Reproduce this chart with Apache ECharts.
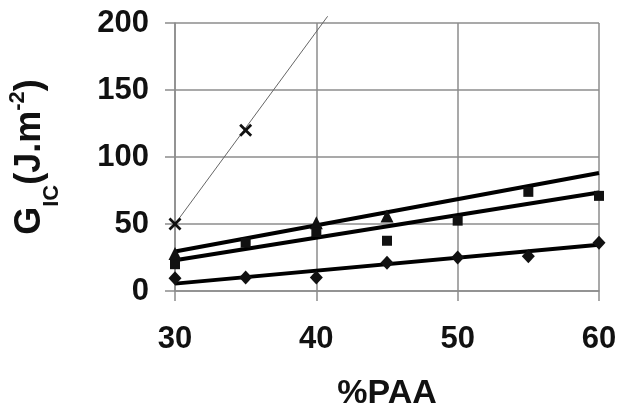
<!DOCTYPE html>
<html>
<head>
<meta charset="utf-8">
<script src="https://cdn.jsdelivr.net/npm/echarts@6/dist/echarts.min.js"></script>
<style>
  html, body { margin: 0; padding: 0; background: #fff; }
  #chart { width: 631px; height: 411px; }
</style>
</head>
<body>
<div id="chart"></div>
<script>
// data (x = %PAA, y = Gic)
const crossPts = [[30, 50], [35, 120]]
const crossFit = [[30, 50], [40.8, 205]]
const trianglePts = [[30, 28], [40, 51], [45, 56]]
const triangleFit = [[30, 29.5], [60, 88]]
const squarePts = [[30, 20], [35, 36], [40, 44], [45, 37.5], [50, 52.5], [55, 74], [60, 71]]
const squareFit = [[30, 23], [60, 73.5]]
const diamondPts = [[30, 9.5], [35, 10], [40, 10], [45, 21], [50, 25], [55, 26], [60, 36]]
const diamondFit = [[30, 5.5], [60, 34.5]]
const xTicks = [30, 40, 50, 60]
const yTicks = [0, 50, 100, 150, 200]

const FONT = 'Liberation Sans'
const gridColor = '#8c8c8c'
const xPath = 'path://M0,1.5L1.5,0L5,3.5L8.5,0L10,1.5L6.5,5L10,8.5L8.5,10L5,6.5L1.5,10L0,8.5L3.5,5Z'

const chart = echarts.init(document.getElementById('chart'))

function fitLine (data, width, color) {
  return {
    type: 'line',
    data: data,
    symbol: 'none',
    clip: false,
    silent: true,
    z: 3,
    lineStyle: { width: width, color: color }
  }
}

function points (data, symbol, size) {
  return {
    type: 'scatter',
    data: data,
    symbol: symbol,
    symbolSize: size,
    z: 4,
    itemStyle: { color: '#111', opacity: 1 }
  }
}

const option = {
  animation: false,
  backgroundColor: '#fff',
  grid: { left: 175, right: 32, top: 23, bottom: 120, outerBoundsMode: 'none', containLabel: false },
  xAxis: {
    type: 'value',
    min: xTicks[0],
    max: xTicks[xTicks.length - 1],
    interval: 10,
    name: '%PAA',
    nameLocation: 'middle',
    nameGap: 86,
    nameTextStyle: { fontFamily: FONT, fontWeight: 'bold', fontSize: 34, color: '#111' },
    axisLine: { show: true, lineStyle: { color: gridColor, width: 1.5 } },
    axisTick: { show: true, length: 10, lineStyle: { color: gridColor, width: 1.5 } },
    axisLabel: { margin: 33, fontFamily: FONT, fontWeight: 'bold', fontSize: 31, color: '#111' },
    splitLine: { show: true, lineStyle: { color: gridColor, width: 1.5 } }
  },
  yAxis: {
    type: 'value',
    min: yTicks[0],
    max: yTicks[yTicks.length - 1],
    interval: 50,
    name: '{m|G}{s|IC}{m|(J.m}{p|-2}{m|)}',
    nameLocation: 'middle',
    nameRotate: 90,
    nameGap: 112,
    nameTextStyle: {
      fontFamily: FONT,
      fontWeight: 'bold',
      color: '#111',
      rich: {
        m: { fontFamily: FONT, fontWeight: 'bold', fontSize: 36, color: '#111', lineHeight: 66, verticalAlign: 'middle' },
        s: { fontFamily: FONT, fontWeight: 'bold', fontSize: 22, color: '#111', lineHeight: 20, verticalAlign: 'bottom' },
        p: { fontFamily: FONT, fontWeight: 'bold', fontSize: 22, color: '#111', lineHeight: 22, verticalAlign: 'top', padding: [10, 0, 0, 0] }
      }
    },
    axisLine: { show: true, lineStyle: { color: gridColor, width: 1.5 } },
    axisTick: { show: true, length: 10, lineStyle: { color: gridColor, width: 1.5 } },
    axisLabel: { margin: 26, fontFamily: FONT, fontWeight: 'bold', fontSize: 31, color: '#111' },
    splitLine: { show: true, lineStyle: { color: gridColor, width: 1.5 } }
  },
  series: [
    fitLine(crossFit, 1, '#666'),
    fitLine(triangleFit, 4, '#000'),
    fitLine(squareFit, 4, '#000'),
    fitLine(diamondFit, 4, '#000'),
    points(crossPts, xPath, 13),
    points(trianglePts, 'triangle', 13),
    points(squarePts, 'rect', 10),
    points(diamondPts, 'diamond', [13, 14])
  ]
}

chart.setOption(option)
</script>
</body>
</html>
